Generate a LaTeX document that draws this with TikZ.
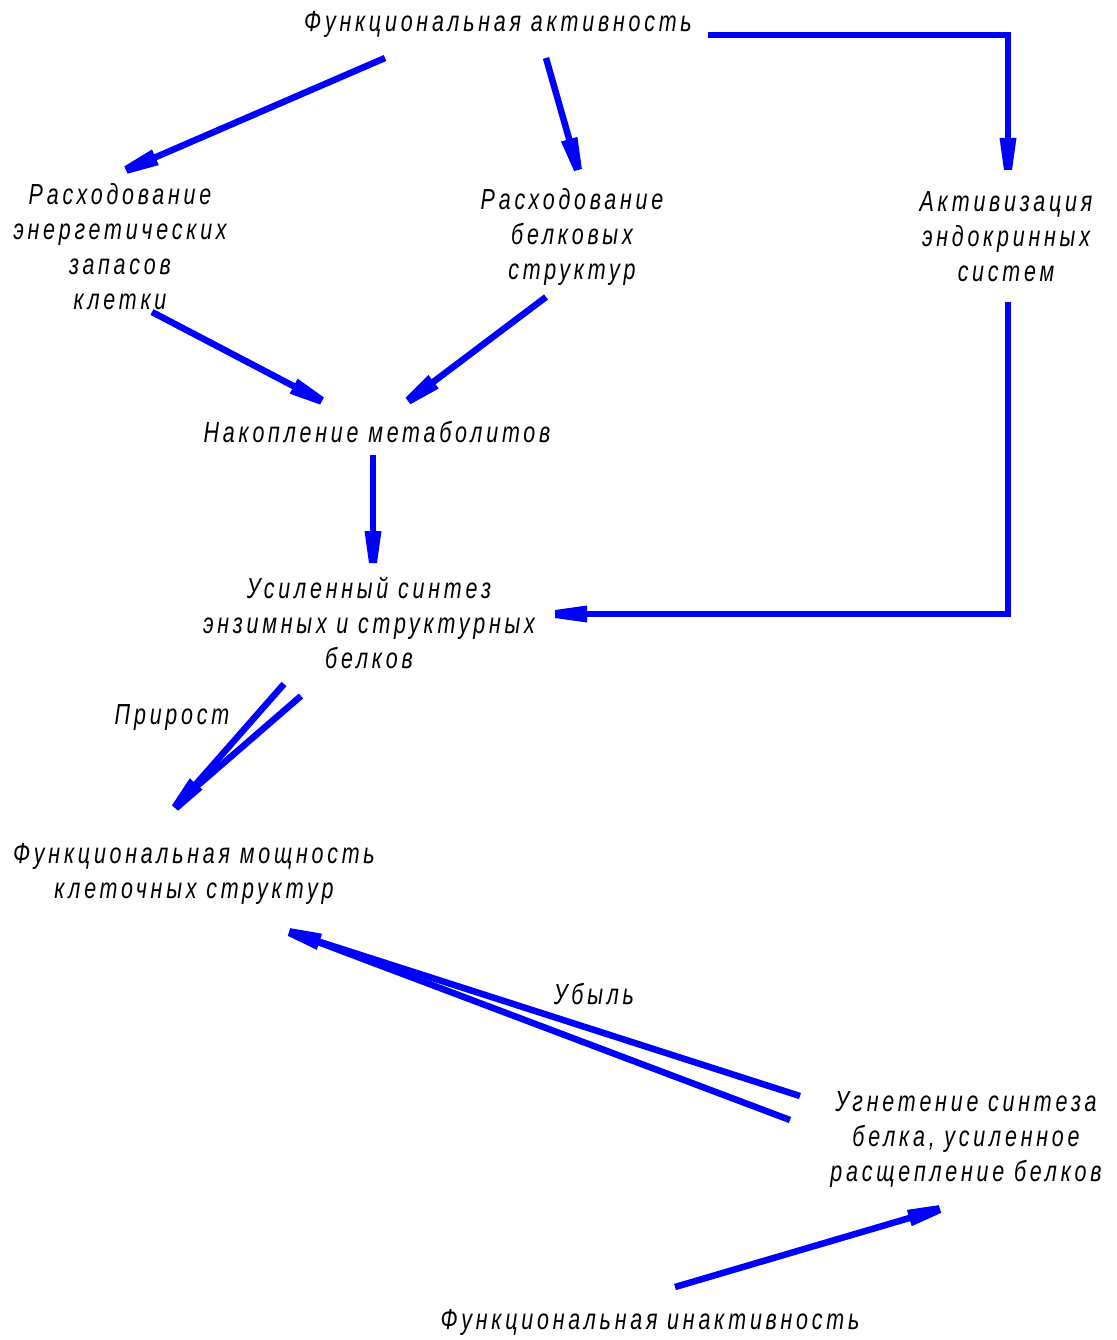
\documentclass[tikz,border=0pt]{standalone}
\usepackage{fontspec}
\newfontfamily\lbfam{Liberation Sans}[FakeStretch=0.74,LetterSpace=13]
\newcommand\lbfont{\lbfam\itshape\fontsize{29}{35}\selectfont}
\usetikzlibrary{arrows.meta}
\pgfdeclarearrow{
  name = Trap,
  setup code = {
    \pgfarrowssettipend{0pt}
    \pgfarrowssetlineend{-30pt}
    \pgfarrowshullpoint{0pt}{4pt}
    \pgfarrowshullpoint{0pt}{-4pt}
    \pgfarrowshullpoint{-32pt}{8pt}
    \pgfarrowshullpoint{-32pt}{-8pt}
  },
  drawing code = {
    \pgfpathmoveto{\pgfqpoint{0pt}{4pt}}
    \pgfpathlineto{\pgfqpoint{-32pt}{8.5pt}}
    \pgfpathlineto{\pgfqpoint{-32pt}{-8.5pt}}
    \pgfpathlineto{\pgfqpoint{0pt}{-4pt}}
    \pgfpathclose
    \pgfusepathqfill
  }
}
\tikzset{
  conn/.style={draw=blue, line width=6.5pt, -Trap},
  plain/.style={draw=blue, line width=6.5pt},
  lbl/.style={font=\lbfont, align=center, inner sep=0pt, text=black},
}
\begin{document}
\begin{tikzpicture}[x=1pt,y=-1pt]
\useasboundingbox (0,0) rectangle (1116,1340);
% nodes
\node[lbl] (fa) at (498,24) {Функциональная активность};
\node[lbl] (re) at (120,247) {Расходование\\энергетических\\запасов\\клетки};
\node[lbl] (rb) at (572,237) {Расходование\\белковых\\структур};
\node[lbl] (ae) at (1006,237) {Активизация\\эндокринных\\систем};
\node[lbl] (nm) at (377,432) {Накопление метаболитов};
\node[lbl] (us) at (369,623) {Усиленный синтез\\энзимных и структурных\\белков};
\node[lbl] (pr) at (172,718) {Прирост};
\node[lbl] (fm) at (194,874) {Функциональная мощность\\клеточных структур};
\node[lbl] (ub) at (594,994) {Убыль};
\node[lbl] (ug) at (966,1140) {Угнетение синтеза\\белка, усиленное\\расщепление белков};
\node[lbl] (fi) at (650,1322) {Функциональная инактивность};
% connector end points
\coordinate (a1) at (385,58);  \coordinate (a2) at (126,170);
\coordinate (b1) at (546,58);  \coordinate (b2) at (578,170);
\coordinate (c1) at (708,35);  \coordinate (c2) at (1008,35); \coordinate (c3) at (1008,170);
\coordinate (d1) at (152,312); \coordinate (d2) at (322,401);
\coordinate (e1) at (546,297); \coordinate (e2) at (408,401);
\coordinate (f1) at (373,455); \coordinate (f2) at (373,563);
\coordinate (g1) at (1008,302); \coordinate (g2) at (1008,614); \coordinate (g3) at (555,614);
\coordinate (h1) at (284,684); \coordinate (h2) at (175,808);
\coordinate (h3) at (301,696); \coordinate (h4) at (197,786);
\coordinate (i1) at (800,1096); \coordinate (i2) at (289,932);
\coordinate (i3) at (790,1120); \coordinate (i4) at (318,942);
\coordinate (j1) at (675,1287); \coordinate (j2) at (940,1209);
% connectors
\draw[conn] (a1) -- (a2);
\draw[conn] (b1) -- (b2);
\draw[conn] (c1) -- (c2) -- (c3);
\draw[conn] (d1) -- (d2);
\draw[conn] (e1) -- (e2);
\draw[conn] (f1) -- (f2);
\draw[conn] (g1) -- (g2) -- (g3);
\draw[plain] (h3) -- (h4);
\draw[conn] (h1) -- (h2);
\draw[plain] (i3) -- (i4);
\draw[conn] (i1) -- (i2);
\draw[conn] (j1) -- (j2);
\end{tikzpicture}
\end{document}
